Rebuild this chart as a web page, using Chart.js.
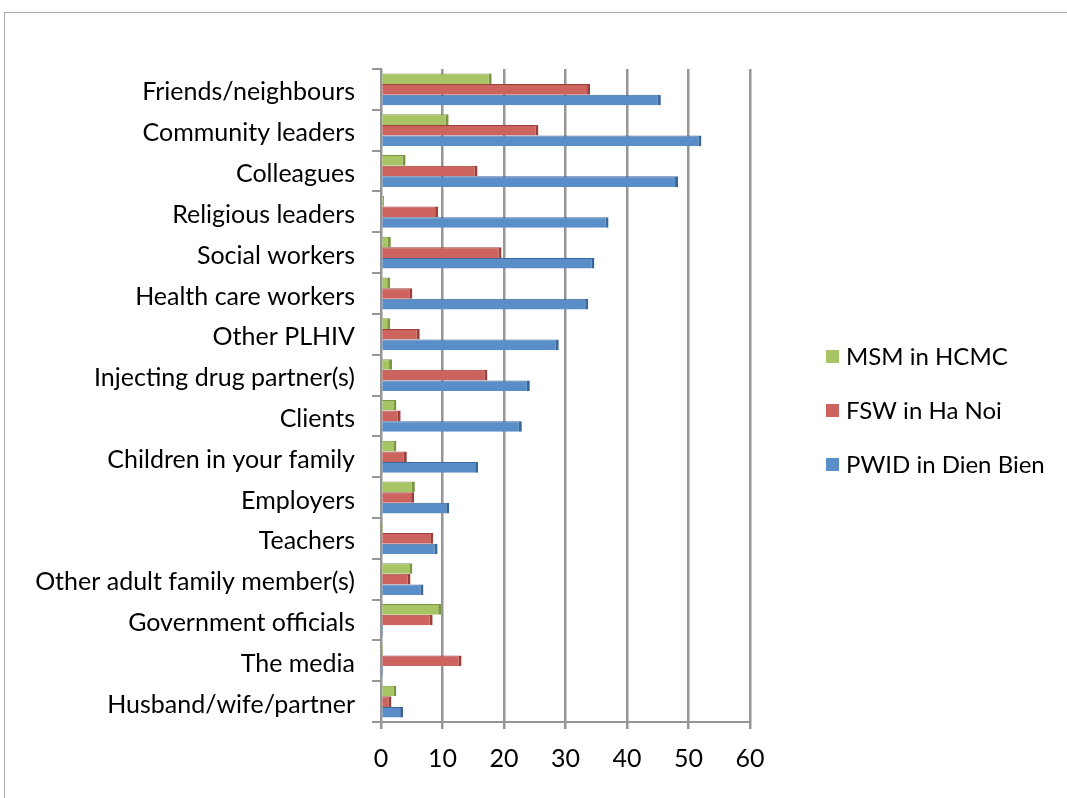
<!DOCTYPE html>
<html>
<head>
<meta charset="utf-8">
<title>Stigma sources by key population</title>
<script src="https://cdn.jsdelivr.net/npm/chart.js@4.4.1/dist/chart.umd.min.js"></script>
<style>
  html, body { margin: 0; padding: 0; background: #fff; }
  #frame { position: absolute; left: 4px; top: 12px; width: 1100px; height: 820px; border: 1px solid #a8a8a8; }
  #wrap { position: absolute; left: 0; top: 0; width: 1067px; height: 798px; }
</style>
</head>
<body>
<div id="frame"></div>
<div id="wrap"><canvas id="myChart" width="1067" height="798"></canvas></div>
<script>
var categories = [
  'Friends/neighbours', 'Community leaders', 'Colleagues', 'Religious leaders',
  'Social workers', 'Health care workers', 'Other PLHIV', 'Injecting drug partner(s)',
  'Clients', 'Children in your family', 'Employers', 'Teachers',
  'Other adult family member(s)', 'Government officials', 'The media', 'Husband/wife/partner'
];
var msmHcmc      = [18, 11, 4, 0.5, 1.6, 1.5, 1.5, 1.8, 2.5, 2.5, 5.5, 0.3, 5.1, 9.8, 0.3, 2.5];
var fswHaNoi     = [34, 25.6, 15.7, 9.3, 19.6, 5.1, 6.3, 17.3, 3.2, 4.2, 5.4, 8.5, 4.8, 8.4, 13.1, 1.7];
var pwidDienBien = [45.5, 52.1, 48.3, 37, 34.7, 33.7, 28.9, 24.2, 22.9, 15.8, 11.1, 9.2, 6.9, 0.3, 0.3, 3.6];
var xTicks = [0, 10, 20, 30, 40, 50, 60];

var FONT = 'Lato, "Liberation Sans", sans-serif';
var GRID = '#969696';

// legend drawn to the right of the plot, one row per dataset
var sideLegend = {
  id: 'sideLegend',
  afterDraw: function (chart) {
    var c = chart.ctx;
    c.save();
    c.font = '24px ' + FONT;
    c.textBaseline = 'middle';
    chart.data.datasets.forEach(function (ds, i) {
      var y = 356 + i * 54;
      c.fillStyle = ds.backgroundColor;
      c.fillRect(826, y - 6, 13, 13);
      c.fillStyle = '#000';
      c.fillText(ds.label, 846, y + 1);
    });
    c.restore();
  }
};

var barBorder = { top: 1, right: 3, bottom: 0, left: 0 };

var ctx = document.getElementById('myChart').getContext('2d');
var myChart = new Chart(ctx, {
  type: 'bar',
  data: {
    labels: categories,
    datasets: [{
        label: 'MSM in HCMC',
        data: msmHcmc,
        backgroundColor: '#a8c565',
        borderColor: '#7a9642',
        borderWidth: barBorder,
        borderSkipped: false
      }, {
        label: 'FSW in Ha Noi',
        data: fswHaNoi,
        backgroundColor: '#cc635e',
        borderColor: '#9c3f3b',
        borderWidth: barBorder,
        borderSkipped: false
      }, {
        label: 'PWID in Dien Bien',
        data: pwidDienBien,
        backgroundColor: '#5a8ec8',
        borderColor: '#3b6699',
        borderWidth: barBorder,
        borderSkipped: false
      }
    ]
  },
  options: {
    indexAxis: 'y',
    responsive: false,
    animation: false,
    events: [],
    datasets: {
      bar: { categoryPercentage: 0.78, barPercentage: 1.0, minBarLength: 2 }
    },
    layout: { padding: { top: 69, right: 317, bottom: 13, left: 0 } },
    scales: {
      x: {
        min: 0,
        max: 60,
        afterBuildTicks: function (s) {
          s.ticks = xTicks.map(function (v) { return { value: v }; });
        },
        afterFit: function (s) { s.height = 63; },
        grid: { color: GRID, lineWidth: 2.5, tickLength: 7 },
        border: { color: GRID, width: 2 },
        ticks: { color: '#000', font: { family: FONT, size: 25 }, padding: 15 }
      },
      y: {
        afterFit: function (s) { s.width = 381; },
        grid: { drawOnChartArea: false, drawTicks: true, tickLength: 9, color: GRID, lineWidth: 2 },
        border: { color: GRID, width: 2 },
        ticks: { color: '#000', font: { family: FONT, size: 25 }, padding: 17, labelOffset: 3, autoSkip: false }
      }
    },
    plugins: {
      legend: { display: false },
      tooltip: { enabled: false }
    }
  },
  plugins: [sideLegend]
});
</script>
</body>
</html>
